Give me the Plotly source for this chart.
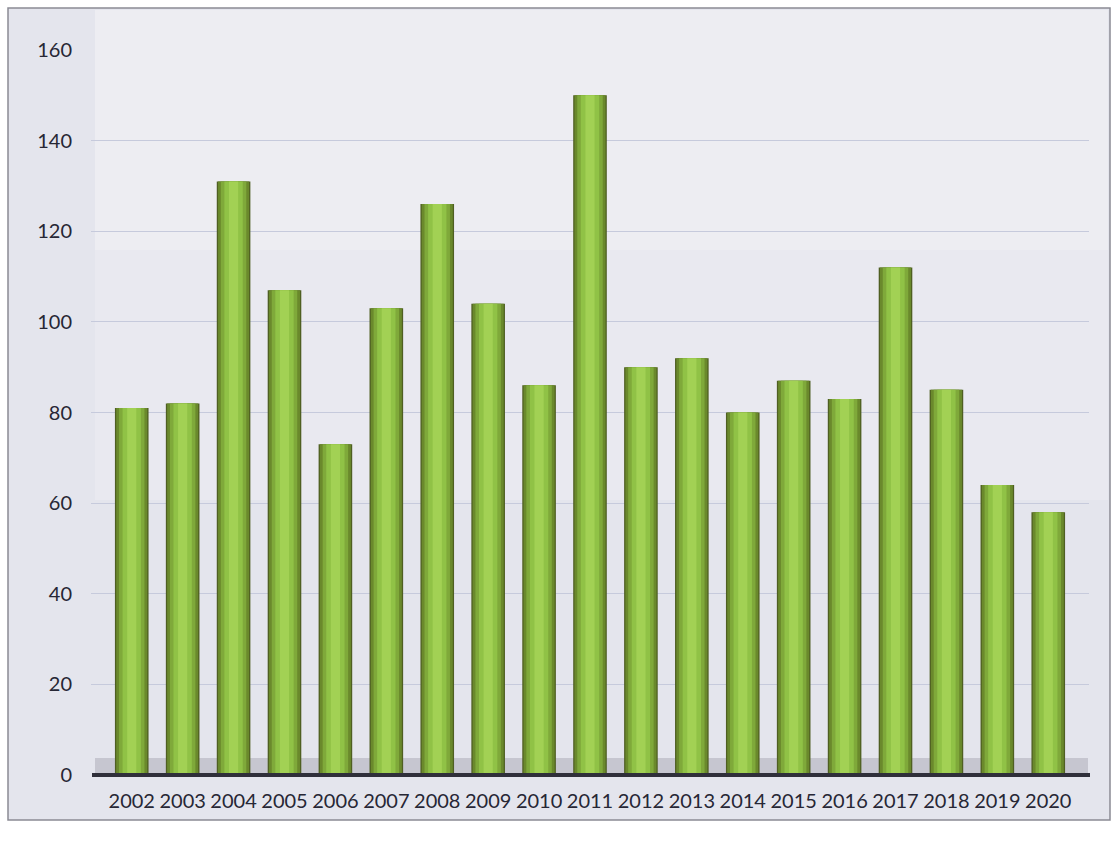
import plotly.graph_objects as go

years = [str(y) for y in range(2002, 2021)]
values = [81, 82, 131, 107, 73, 103, 126, 104, 86, 150, 90, 92, 80, 87, 83, 112, 85, 64, 58]
y_ticks = [0, 20, 40, 60, 80, 100, 120, 140, 160]

W, H = 1119, 841
L, R, T, B = 91, 30, 50, 66
pw = W - L - R
ph = H - T - B

def px(x):
    return (x - L) / pw

def py(y):
    return (H - B - y) / ph

fig = go.Figure()

# cylinder-like shading via overlaid bars of decreasing width
layers = [
    (0.66, "#4f5f22"),
    (0.61, "#6a892c"),
    (0.50, "#7fa93a"),
    (0.36, "#90c246"),
    (0.18, "#a2d154"),
]
for i, (w, c) in enumerate(layers):
    fig.add_trace(go.Bar(
        x=years, y=values, width=w,
        marker=dict(color=c, line=dict(width=0)),
        hoverinfo="skip" if i else None,
        showlegend=False,
    ))

fig.update_layout(
    width=W, height=H,
    margin=dict(l=L, r=R, t=T, b=B),
    barmode="overlay",
    paper_bgcolor="white",
    plot_bgcolor="rgba(0,0,0,0)",
    font=dict(family="Lato, 'Open Sans', sans-serif", size=20, color="#272735"),
    xaxis=dict(
        range=[-0.8, 18.8], type="category",
        showgrid=False, ticks="", tickfont=dict(size=20),
        showline=False, zeroline=False, ticklabelstandoff=12,
    ),
    yaxis=dict(
        range=[0, 160], tickvals=y_ticks,
        showgrid=True, gridcolor="#c6cadc", gridwidth=1,
        zeroline=False, showline=False, ticks="",
        ticklabelstandoff=18, tickfont=dict(size=20),
    ),
    shapes=[
        # frame with background
        dict(type="rect", xref="paper", yref="paper",
             x0=px(8), x1=px(1110), y0=py(820), y1=py(8),
             fillcolor="#e4e5ed", line=dict(color="#8a8a94", width=1.5),
             layer="below"),
        # slightly lighter upper-right area
        dict(type="rect", xref="paper", yref="paper",
             x0=px(95), x1=px(1108), y0=py(500), y1=py(10),
             fillcolor="rgba(255,255,255,0.18)", line=dict(width=0),
             layer="below"),
        dict(type="rect", xref="paper", yref="paper",
             x0=px(95), x1=px(1108), y0=py(250), y1=py(10),
             fillcolor="rgba(255,255,255,0.18)", line=dict(width=0),
             layer="below"),
        # floor shadow
        dict(type="rect", xref="paper", yref="paper",
             x0=px(95), x1=px(1088), y0=0, y1=py(758),
             fillcolor="#c6c6d0", line=dict(width=0), layer="below"),
        # axis line
        dict(type="line", xref="paper", yref="paper",
             x0=px(92), x1=px(1090), y0=0, y1=0,
             line=dict(color="#2f2f3a", width=4)),
    ],
)

fig.write_html("out.html")
